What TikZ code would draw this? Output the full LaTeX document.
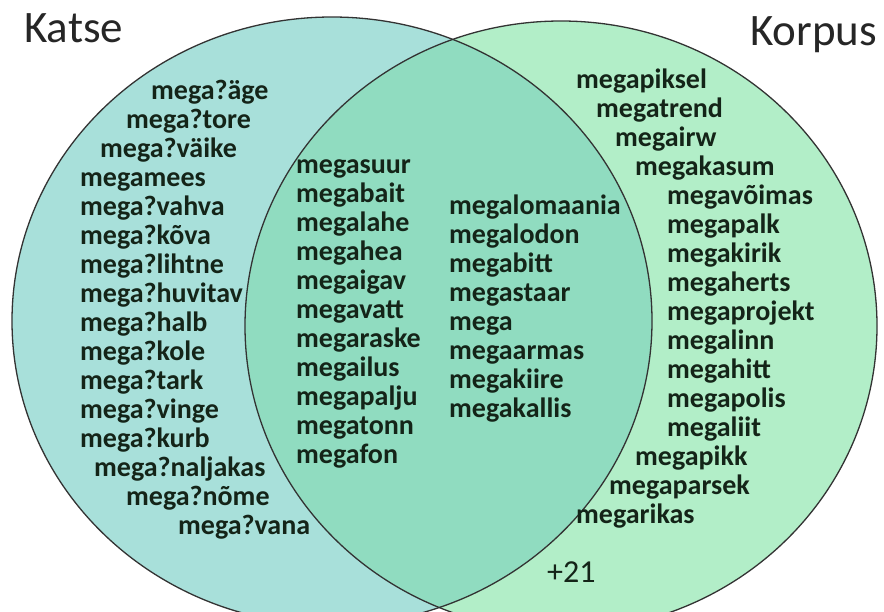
\documentclass[tikz,border=0pt]{standalone}
\usepackage{fontspec}
\setmainfont{Carlito}
\usetikzlibrary{positioning}

\begin{document}
\begin{tikzpicture}[x=1pt, y=-1pt,
    setEdge/.style={draw=black!80, line width=1.3pt},
    word/.style={anchor=mid west, inner sep=0pt, font=\fontsize{28}{30}\selectfont\bfseries, text=wordtext},
    title/.style={anchor=base west, inner sep=0pt, font=\fontsize{45}{47}\selectfont, text=black!85},
  ]

    % Colors
    \definecolor{katsefill}{HTML}{A8E0DA}
    \definecolor{korpusfill}{HTML}{B2EEC8}
    \definecolor{bothfill}{HTML}{90DCC0}
    \definecolor{wordtext}{HTML}{142418}

    \useasboundingbox (0,0) rectangle (884,611);
    \clip (0,0) rectangle (884,611);

    \coordinate (K) at (332,321);
    \coordinate (C) at (561,326);

    %draw the sets
    \fill[katsefill] (K) ellipse [x radius=320, y radius=304];
    \fill[korpusfill] (C) ellipse [x radius=316, y radius=305];
    \begin{scope}
      \clip (K) ellipse [x radius=320, y radius=304];
      \fill[bothfill] (C) ellipse [x radius=316, y radius=305];
    \end{scope}
    \draw[setEdge] (K) ellipse [x radius=320, y radius=304];
    \draw[setEdge] (C) ellipse [x radius=316, y radius=305];

    %set names
    \node[title] (katse) at (24,42) {Katse};
    \node[title] (korpus) at (750,45) {Korpus};

    %words only in Katse
    \foreach \dx/\w [count=\i] in {151/mega?äge, 126/mega?tore, 100/mega?väike,
        80/megamees, 80/mega?vahva, 80/mega?kõva, 80/mega?lihtne, 80/mega?huvitav,
        80/mega?halb, 80/mega?kole, 80/mega?tark, 80/mega?vinge, 80/mega?kurb,
        94/mega?naljakas, 126/mega?nõme, 178/mega?vana}
      \node[word] (katse\i) at (\dx, {97+29*(\i-1)}) {\w};

    %words in both, first column
    \foreach \w [count=\i] in {megasuur, megabait, megalahe, megahea, megaigav,
        megavatt, megaraske, megailus, megapalju, megatonn, megafon}
      \node[word] (both\i) at (296, {171+29*(\i-1)}) {\w};

    %words in both, second column
    \foreach \w [count=\i] in {megalomaania, megalodon, megabitt, megastaar,
        mega, megaarmas, megakiire, megakallis}
      \node[word] (bothb\i) at (449, {212+29*(\i-1)}) {\w};

    %words only in Korpus
    \foreach \dx/\w [count=\i] in {576/megapiksel, 596/megatrend, 615/megairw,
        635/megakasum, 667/megavõimas, 667/megapalk, 667/megakirik, 667/megaherts,
        667/megaprojekt, 667/megalinn, 667/megahitt, 667/megapolis, 667/megaliit,
        635/megapikk, 609/megaparsek, 576/megarikas}
      \node[word] (korpus\i) at (\dx, {86+29*(\i-1)}) {\w};

    \node[word, anchor=base west, font=\fontsize{32}{34}\selectfont] (more) at (547,582) {+21};

\end{tikzpicture}
\end{document}
